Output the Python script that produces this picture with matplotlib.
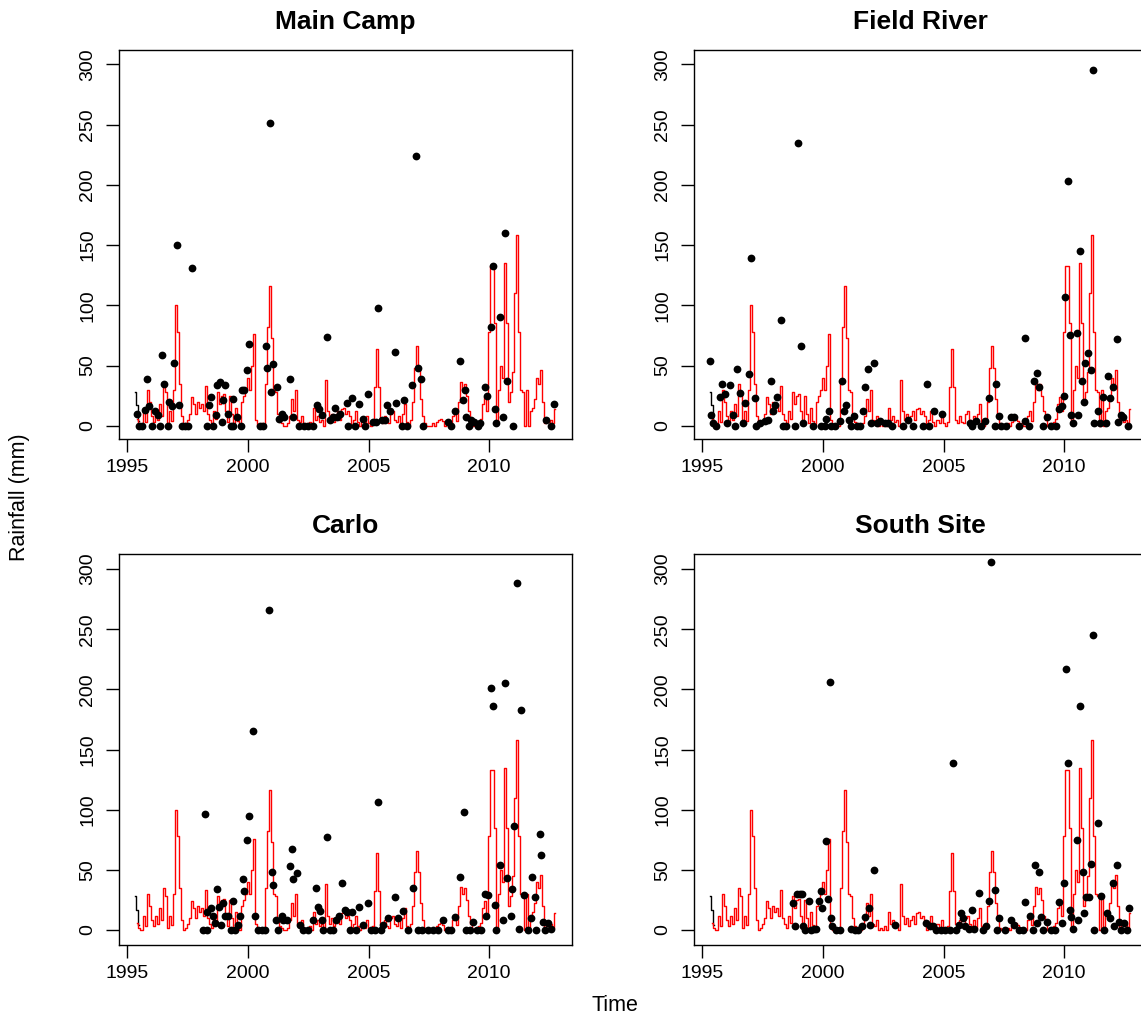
"""Monthly rainfall at four sites: gauge readings (points) against the
reference series (red line), 1995-2012.
"""
import numpy as np
import matplotlib

matplotlib.use("Agg")
import matplotlib.pyplot as plt

plt.rcParams["font.family"] = ["Liberation Sans", "DejaVu Sans"]

# ---------------------------------------------------------------- reference series
# monthly values, Jun 1995 .. Oct 2012
red_start = 1995 + 5 / 12
red_vals = (
    [6, 2, 0, 12, 3, 30, 20]                                    # 1995 Jun-Dec
    + [8, 3, 12, 5, 18, 8, 35, 28, 2, 12, 4, 30]                # 1996
    + [100, 78, 35, 8, 0, 2, 5, 10, 24, 18, 10, 20]             # 1997
    + [15, 18, 12, 33, 10, 5, 2, 12, 6, 28, 18, 25]             # 1998
    + [26, 12, 3, 25, 10, 2, 15, 4, 0, 20, 25, 30]              # 1999
    + [40, 30, 50, 76, 5, 0, 0, 2, 0, 35, 82, 116]              # 2000
    + [73, 30, 28, 10, 3, 2, 0, 0, 2, 8, 22, 12]                # 2001
    + [30, 5, 3, 8, 0, 2, 0, 3, 0, 15, 5, 8]                    # 2002
    + [3, 5, 0, 38, 12, 5, 10, 3, 8, 12, 5, 14]                 # 2003
    + [15, 10, 12, 8, 0, 5, 12, 3, 0, 5, 2, 8]                  # 2004
    + [2, 0, 3, 32, 64, 32, 5, 2, 8, 3, 2, 10]                  # 2005
    + [12, 5, 3, 8, 2, 10, 18, 3, 0, 5, 20, 48]                 # 2006
    + [66, 48, 22, 8, 2, 0, 0, 0, 2, 0, 3, 5]                   # 2007
    + [6, 4, 0, 2, 0, 0, 8, 12, 4, 20, 36, 30]                  # 2008
    + [35, 25, 12, 5, 0, 2, 0, 3, 6, 18, 24, 12]                # 2009
    + [78, 133, 133, 85, 2, 30, 50, 40, 135, 85, 20, 28]        # 2010
    + [45, 110, 158, 78, 30, 28, 0, 30, 0, 12, 15, 22]          # 2011
    + [40, 35, 46, 20, 2, 5, 3, 5, 2, 14]                       # 2012 Jan-Oct
)
red_t = red_start + np.arange(len(red_vals)) / 12

# first months of the plotted (black) series, mostly hidden under the red
blk_t = [1995 + 4 / 12, 1995 + 5 / 12, 1995 + 6 / 12]
blk_v = [28, 17, 4]

# ---------------------------------------------------------------- gauge points
mc_t = [1995.39, 1995.50, 1995.59, 1995.73, 1995.83, 1995.91, 1996.00, 1996.15, 1996.28, 1996.35,
        1996.45, 1996.53, 1996.70, 1996.74, 1996.84, 1996.93, 1997.04, 1997.15, 1997.25, 1997.39,
        1997.53, 1997.67, 1998.29, 1998.38, 1998.47, 1998.54, 1998.67, 1998.73, 1998.84, 1998.91,
        1998.95, 1999.05, 1999.19, 1999.28, 1999.36, 1999.39, 1999.56, 1999.70, 1999.74, 1999.85,
        1999.94, 2000.04, 2000.50, 2000.64, 2000.73, 2000.80, 2000.90, 2000.94, 2001.02, 2001.19,
        2001.28, 2001.40, 2001.49, 2001.74, 2001.85, 2002.13, 2002.32, 2002.50, 2002.71, 2002.85,
        2002.94, 2003.05, 2003.26, 2003.40, 2003.51, 2003.60, 2003.70, 2003.81, 2004.09, 2004.16,
        2004.32, 2004.43, 2004.60, 2004.78, 2004.85, 2004.96, 2005.17, 2005.29, 2005.40, 2005.54,
        2005.68, 2005.75, 2005.88, 2006.09, 2006.16, 2006.37, 2006.46, 2006.60, 2006.82, 2006.96,
        2007.06, 2007.16, 2007.24, 2008.30, 2008.44, 2008.58, 2008.78, 2008.90, 2008.99, 2009.06,
        2009.17, 2009.27, 2009.36, 2009.54, 2009.61, 2009.82, 2009.92, 2010.10, 2010.17, 2010.24,
        2010.30, 2010.44, 2010.58, 2010.68, 2010.75, 2011.00, 2012.38, 2012.58, 2012.68]
mc_v = [10, 0, 0, 13, 39, 16, 0, 12, 9, 0,
        59, 35, 0, 20, 16, 52, 150, 17, 0, 0,
        0, 131, 0, 17, 24, 0, 9, 34, 36, 3,
        21, 34, 10, 0, 22, 0, 7, 0, 30, 30,
        46, 68, 0, 0, 66, 48, 251, 28, 51, 32,
        6, 10, 7, 39, 7, 0, 0, 0, 0, 17,
        14, 9, 74, 5, 7, 15, 7, 10, 19, 0,
        23, 0, 18, 6, 0, 26, 3, 3, 98, 5,
        5, 17, 12, 61, 19, 0, 21, 0, 34, 224,
        48, 39, 0, 3, 0, 12, 54, 21, 30, 7,
        0, 5, 3, 0, 2, 32, 25, 82, 133, 14,
        2, 90, 7, 160, 37, 0, 5, 0, 18]

fr_t = [1995.33, 1995.37, 1995.44, 1995.55, 1995.72, 1995.81, 1995.93, 1996.02, 1996.16, 1996.27,
        1996.37, 1996.45, 1996.55, 1996.69, 1996.75, 1996.93, 1997.03, 1997.17, 1997.24, 1997.40,
        1997.58, 1997.72, 1997.83, 1997.93, 1998.00, 1998.11, 1998.25, 1998.34, 1998.48, 1998.83,
        1998.96, 1999.10, 1999.17, 1999.59, 1999.93, 2000.07, 2000.14, 2000.23, 2000.35, 2000.48,
        2000.69, 2000.80, 2000.87, 2000.97, 2001.08, 2001.17, 2001.27, 2001.41, 2001.52, 2001.66,
        2001.75, 2001.86, 2001.98, 2002.11, 2002.24, 2002.38, 2002.56, 2002.69, 2002.87, 2003.31,
        2003.52, 2003.73, 2004.14, 2004.32, 2004.39, 2004.60, 2004.94, 2006.08, 2006.19, 2006.35,
        2006.56, 2006.74, 2006.88, 2007.15, 2007.18, 2007.32, 2007.39, 2007.60, 2007.78, 2007.94,
        2008.15, 2008.36, 2008.40, 2008.56, 2008.77, 2008.88, 2008.95, 2009.12, 2009.28, 2009.46,
        2009.67, 2009.78, 2009.90, 2010.00, 2010.04, 2010.16, 2010.23, 2010.30, 2010.39, 2010.52,
        2010.59, 2010.67, 2010.74, 2010.81, 2010.88, 2010.98, 2011.12, 2011.18, 2011.25, 2011.40,
        2011.51, 2011.60, 2011.74, 2011.84, 2011.91, 2012.04, 2012.18, 2012.25, 2012.36, 2012.46,
        2012.64]
fr_v = [54, 9, 2, 0, 24, 35, 26, 2, 34, 9,
        0, 47, 27, 2, 19, 43, 139, 23, 0, 2,
        4, 5, 37, 12, 17, 24, 88, 0, 0, 0,
        235, 66, 2, 0, 0, 0, 6, 12, 0, 0,
        4, 37, 12, 17, 5, 0, 8, 0, 0, 12,
        32, 47, 2, 52, 2, 4, 2, 2, 0, 0,
        5, 0, 0, 35, 0, 12, 10, 2, 0, 4,
        0, 4, 23, 0, 35, 8, 0, 0, 7, 7,
        0, 4, 73, 0, 37, 44, 32, 0, 7, 0,
        0, 14, 16, 25, 107, 203, 75, 9, 2, 77,
        9, 145, 37, 20, 52, 60, 46, 295, 2, 12,
        2, 24, 2, 41, 23, 32, 72, 3, 9, 7,
        0]

ca_t = [1998.15, 1998.22, 1998.29, 1998.31, 1998.47, 1998.53, 1998.63, 1998.73, 1998.81, 1998.88,
        1998.95, 1999.05, 1999.19, 1999.28, 1999.39, 1999.46, 1999.57, 1999.67, 1999.78, 1999.85,
        1999.94, 2000.04, 2000.22, 2000.29, 2000.43, 2000.57, 2000.70, 2000.88, 2000.98, 2001.05,
        2001.16, 2001.26, 2001.40, 2001.46, 2001.60, 2001.74, 2001.81, 2001.88, 2002.04, 2002.15,
        2002.29, 2002.50, 2002.71, 2002.82, 2002.91, 2002.98, 2003.05, 2003.12, 2003.26, 2003.40,
        2003.54, 2003.67, 2003.78, 2003.89, 2004.02, 2004.12, 2004.23, 2004.32, 2004.48, 2004.60,
        2004.78, 2004.96, 2005.12, 2005.26, 2005.40, 2005.51, 2005.61, 2005.82, 2006.09, 2006.23,
        2006.44, 2006.64, 2006.85, 2007.06, 2007.20, 2007.47, 2007.68, 2007.89, 2008.09, 2008.30,
        2008.44, 2008.60, 2008.78, 2008.95, 2009.06, 2009.20, 2009.34, 2009.48, 2009.68, 2009.82,
        2009.89, 2009.96, 2010.10, 2010.17, 2010.24, 2010.30, 2010.44, 2010.58, 2010.65, 2010.75,
        2010.89, 2010.95, 2011.04, 2011.16, 2011.24, 2011.31, 2011.44, 2011.62, 2011.73, 2011.80,
        2011.89, 2011.96, 2012.10, 2012.17, 2012.24, 2012.31, 2012.44, 2012.58]
ca_v = [0, 96, 0, 15, 18, 12, 6, 34, 19, 4,
        22, 12, 12, 0, 24, 0, 4, 12, 42, 32,
        75, 95, 165, 12, 0, 0, 0, 266, 48, 37,
        8, 0, 12, 8, 8, 53, 67, 42, 47, 4,
        0, 0, 8, 35, 19, 16, 8, 0, 77, 0,
        0, 8, 12, 39, 17, 15, 0, 15, 0, 19,
        4, 22, 0, 0, 106, 0, 4, 10, 27, 10,
        16, 0, 35, 0, 0, 0, 0, 0, 8, 0,
        0, 11, 44, 98, 0, 0, 7, 0, 0, 30,
        12, 29, 201, 186, 21, 0, 54, 8, 205, 43,
        12, 34, 86, 288, 1, 183, 29, 0, 10, 44,
        27, 0, 80, 62, 7, 0, 6, 1]

ss_t = [1998.76, 1998.85, 1998.92, 1999.03, 1999.14, 1999.17, 1999.27, 1999.41, 1999.52, 1999.61,
        1999.72, 1999.83, 1999.93, 1999.97, 2000.11, 2000.21, 2000.28, 2000.35, 2000.39, 2000.55,
        2000.69, 2001.17, 2001.31, 2001.45, 2001.63, 2001.75, 2001.89, 2001.96, 2002.11, 2002.97,
        2004.28, 2004.42, 2004.56, 2004.70, 2004.90, 2005.08, 2005.25, 2005.39, 2005.52, 2005.64,
        2005.73, 2005.80, 2005.91, 2006.05, 2006.17, 2006.28, 2006.46, 2006.63, 2006.77, 2006.88,
        2006.98, 2007.15, 2007.21, 2007.32, 2007.53, 2007.80, 2007.94, 2008.15, 2008.29, 2008.40,
        2008.59, 2008.70, 2008.81, 2008.88, 2008.95, 2009.05, 2009.14, 2009.28, 2009.46, 2009.64,
        2009.81, 2009.90, 2010.00, 2010.07, 2010.17, 2010.23, 2010.30, 2010.39, 2010.52, 2010.59,
        2010.67, 2010.77, 2010.84, 2010.91, 2011.05, 2011.12, 2011.18, 2011.25, 2011.40, 2011.53,
        2011.64, 2011.78, 2011.91, 2012.02, 2012.09, 2012.18, 2012.26, 2012.36, 2012.49, 2012.63,
        2012.68]
ss_v = [22, 3, 30, 30, 30, 3, 0, 24, 0, 1,
        1, 24, 32, 18, 74, 26, 206, 10, 3, 0,
        0, 1, 0, 0, 3, 11, 18, 4, 50, 4,
        6, 3, 3, 0, 0, 0, 0, 139, 0, 4,
        14, 10, 3, 1, 17, 1, 31, 0, 3, 24,
        306, 33, 0, 10, 0, 8, 4, 0, 0, 23,
        12, 0, 54, 6, 48, 11, 0, 7, 0, 0,
        23, 6, 39, 217, 139, 17, 11, 1, 75, 8,
        186, 48, 14, 27, 27, 55, 245, 0, 89, 28,
        0, 14, 10, 39, 3, 54, 7, 0, 6, 0,
        18]

sites = ["Main Camp", "Field River", "Carlo", "South Site"]
site_t = [mc_t, fr_t, ca_t, ss_t]
site_v = [mc_v, fr_v, ca_v, ss_v]

year_ticks = [1995, 2000, 2005, 2010]
rain_ticks = [0, 50, 100, 150, 200, 250, 300]

# ---------------------------------------------------------------- figure
W, H = 1141, 1021
fig = plt.figure(figsize=(W / 100, H / 100), dpi=100)

# panel boxes in pixels: (left, top, right, bottom); right column runs off the edge
boxes = [(119, 50, 572, 439), (694, 50, 1147, 439),
         (119, 554, 572, 945), (694, 554, 1147, 945)]
ylims = [(-11.0, 312.0), (-11.0, 312.0), (-12.5, 312.5), (-12.5, 312.5)]

for i, (name, tt, vv) in enumerate(zip(sites, site_t, site_v)):
    l, t, r, b = boxes[i]
    ax = fig.add_axes([l / W, 1 - b / H, (r - l) / W, (b - t) / H])
    ax.plot(blk_t, blk_v, color="black", lw=1.0, drawstyle="steps-mid")
    ax.plot(red_t, red_vals, color="#ff0000", lw=1.0, drawstyle="steps-mid")
    ax.plot(tt, vv, "o", color="black", ms=5.6, mec="black", mew=0)
    ax.set_xlim(1994.65, 2013.44)
    ax.set_ylim(*ylims[i])
    ax.set_xticks(year_ticks)
    ax.set_yticks(rain_ticks)
    ax.tick_params(length=9.5, width=1.0, labelsize=14, color="black",
                   top=False, right=False)
    ax.tick_params(axis="x", pad=5)
    ax.tick_params(axis="y", pad=7)
    for lab in ax.get_yticklabels():
        lab.set_rotation(90)
        lab.set_va("center")
    for sp in ax.spines.values():
        sp.set_linewidth(1.0)
    ax.text(0.5, 1 + 28 / (b - t), name, transform=ax.transAxes, ha="center",
            va="center", fontsize=19, fontweight="bold")

fig.text(20 / W, 1 - 497 / H, "Rainfall (mm)", rotation=90, ha="center", va="center",
         fontsize=15.5)
fig.text(615 / W, 1 - 1005 / H, "Time", ha="center", va="center", fontsize=15.5)

fig.savefig("out.png", dpi=100)
